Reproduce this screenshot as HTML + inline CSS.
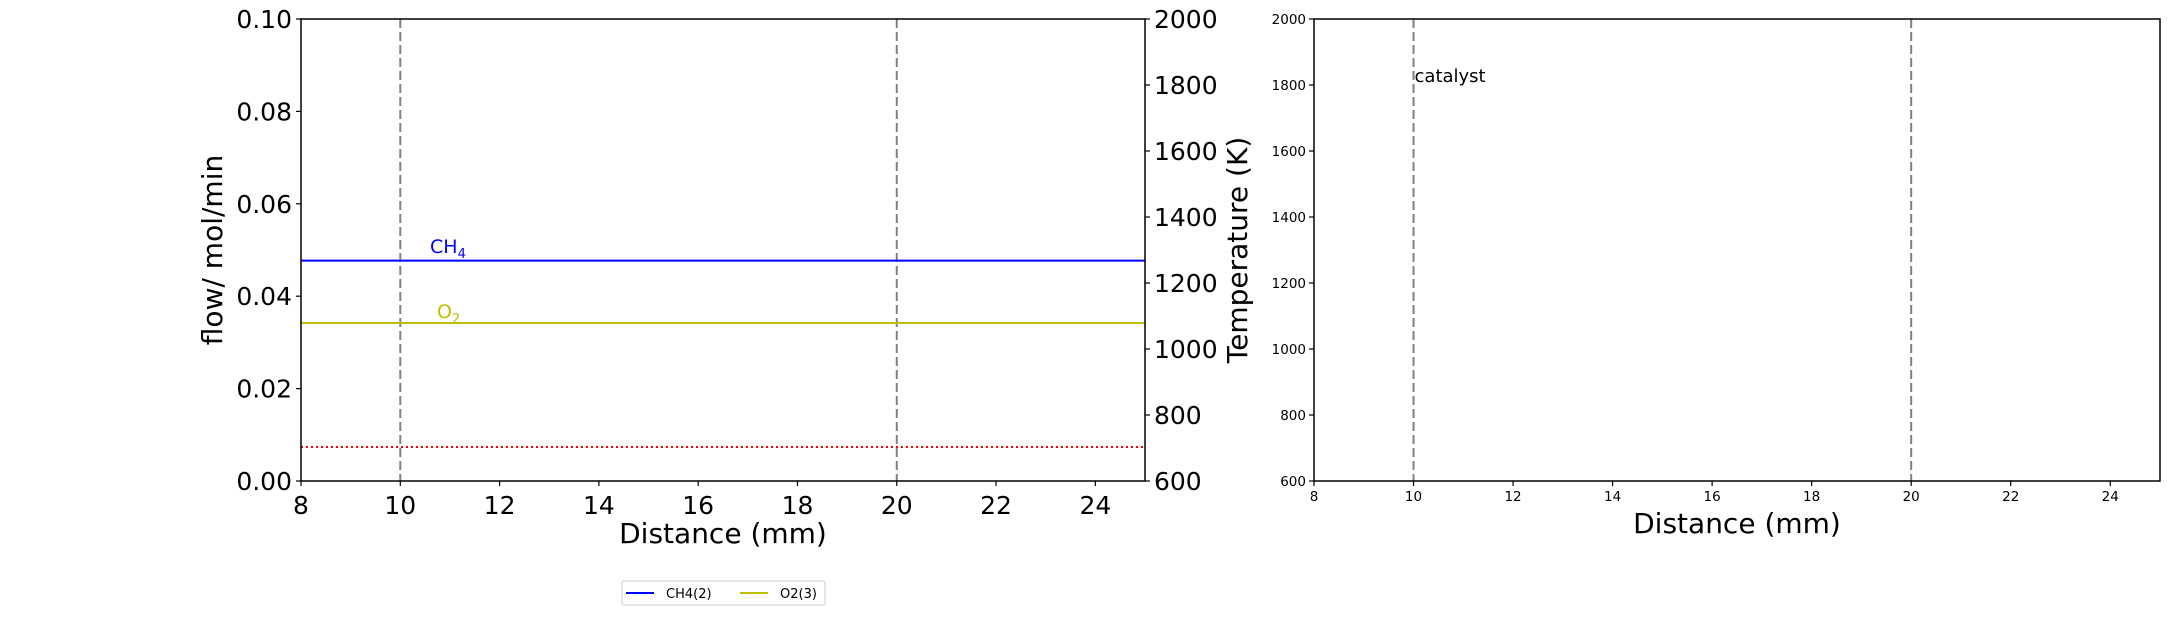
<!DOCTYPE html>
<html><head><meta charset="utf-8"><style>
html,body{margin:0;padding:0;background:#fff;}
svg text{font-family:"DejaVu Sans","Liberation Sans",sans-serif;}
</style></head><body>
<svg id="fig" width="2173" height="615" xmlns="http://www.w3.org/2000/svg">
<rect width="2173" height="615" fill="#fff"/>
<g id="left"></g>
<g id="right"></g>
</svg>
<script>
const xTicks=[8,10,12,14,16,18,20,22,24];
const flowTicks=["0.00","0.02","0.04","0.06","0.08","0.10"];
const tempTicks=[600,800,1000,1200,1400,1600,1800,2000];
const seriesNames=["CH4(2)","O2(3)"];
const seriesColors=["#0000ff","#bfbf00"];
const distance=[8,25];
const ch4Flow=[0.0477,0.0477];
const o2Flow=[0.0342,0.0342];
const tempProfile=[703,703];
const catalystBounds=[10,20];

const NS="http://www.w3.org/2000/svg";
function el(p,t,a,txt){const e=document.createElementNS(NS,t);for(const k in a)e.setAttribute(k,a[k]);if(txt!==undefined)e.textContent=txt;p.appendChild(e);return e;}
const L={x0:301,x1:1145,y0:481,y1:19};
const R={x0:1314,x1:2160,y0:481,y1:19};
const sx=(b,v)=>b.x0+(v-8)/(25-8)*(b.x1-b.x0);
const syF=v=>L.y0-(v/0.1)*(L.y0-L.y1);
const syT=(b,v)=>b.y0-(v-600)/1400*(b.y0-b.y1);

const lg=document.getElementById('left');
// catalyst lines
catalystBounds.forEach(c=>{
 const l=el(lg,'line',{x1:sx(L,c),x2:sx(L,c),y1:L.y1,y2:L.y0,stroke:'#808080','stroke-width':2,'stroke-dasharray':'9,4'});
 
 
});
const series=[ch4Flow,o2Flow];
series.forEach((s,i)=>{
 const pts=distance.map((d,j)=>sx(L,d)+','+syF(s[j])).join(' ');
 const p=el(lg,'polyline',{points:pts,fill:'none',stroke:seriesColors[i],'stroke-width':2});
 
 
});
{
 const pts=distance.map((d,j)=>sx(L,d)+','+syT(L,tempProfile[j])).join(' ');
 const p=el(lg,'polyline',{points:pts,fill:'none',stroke:'#ff0000','stroke-width':2,'stroke-dasharray':'2,3'});
 
 
}
const t1=el(lg,'text',{x:430,y:253,'font-size':19,fill:'#0000ff'});


t1.innerHTML='CH<tspan font-size="13" dy="5">4</tspan>';
const t2=el(lg,'text',{x:437,y:318,'font-size':19,fill:'#bfbf00'});


t2.innerHTML='O<tspan font-size="13" dy="5">2</tspan>';
const fr=el(lg,'rect',{x:L.x0,y:L.y1,width:L.x1-L.x0,height:L.y0-L.y1,fill:'none',stroke:'#000','stroke-width':1.5});


xTicks.forEach(v=>{
 const x=sx(L,v);
 el(lg,'line',{x1:x,x2:x,y1:L.y0,y2:L.y0+5,stroke:'#000','stroke-width':1.2});
 const t=el(lg,'text',{x:x,y:L.y0+33,'font-size':25,'text-anchor':'middle'},v);
 
 
});
flowTicks.forEach(v=>{
 const y=syF(+v);
 el(lg,'line',{x1:L.x0-5,x2:L.x0,y1:y,y2:y,stroke:'#000','stroke-width':1.2});
 const t=el(lg,'text',{x:L.x0-9,y:y+9,'font-size':25,'text-anchor':'end'},v);
 
 
});
tempTicks.forEach(v=>{
 const y=syT(L,v);
 el(lg,'line',{x1:L.x1,x2:L.x1+5,y1:y,y2:y,stroke:'#000','stroke-width':1.2});
 const t=el(lg,'text',{x:L.x1+9,y:y+9,'font-size':25,'text-anchor':'start'},v);
 
 
});
let a=el(lg,'text',{x:(L.x0+L.x1)/2,y:543,'font-size':28,'text-anchor':'middle'},'Distance (mm)');


a=el(lg,'text',{x:0,y:0,'font-size':28,'text-anchor':'middle',transform:'translate(222,250) rotate(-90)'},'flow/ mol/min');


a=el(lg,'text',{x:0,y:0,'font-size':28,'text-anchor':'middle',transform:'translate(1247,250) rotate(-90)'},'Temperature (K)');


// legend
const leg=el(lg,'g',{});


el(leg,'rect',{x:622,y:581,width:203,height:24,fill:'#fff',stroke:'#ccc','stroke-width':1,rx:2});
seriesNames.forEach((n,i)=>{
 const x0=626+i*114;
 el(leg,'line',{x1:x0,x2:x0+28,y1:593,y2:593,stroke:seriesColors[i],'stroke-width':2});
 const t=el(leg,'text',{x:x0+40,y:598,'font-size':13},n);
 
 
});

const rg=document.getElementById('right');
catalystBounds.forEach(c=>{
 const l=el(rg,'line',{x1:sx(R,c),x2:sx(R,c),y1:R.y1,y2:R.y0,stroke:'#808080','stroke-width':2,'stroke-dasharray':'9,4'});
 
 
});
a=el(rg,'text',{x:sx(R,10)+1,y:82,'font-size':18},'catalyst');


const fr2=el(rg,'rect',{x:R.x0,y:R.y1,width:R.x1-R.x0,height:R.y0-R.y1,fill:'none',stroke:'#000','stroke-width':1.5});


xTicks.forEach(v=>{
 const x=sx(R,v);
 el(rg,'line',{x1:x,x2:x,y1:R.y0,y2:R.y0+5,stroke:'#000','stroke-width':1.2});
 const t=el(rg,'text',{x:x,y:R.y0+20,'font-size':13.5,'text-anchor':'middle'},v);
 
 
});
tempTicks.forEach(v=>{
 const y=syT(R,v);
 el(rg,'line',{x1:R.x0-5,x2:R.x0,y1:y,y2:y,stroke:'#000','stroke-width':1.2});
 const t=el(rg,'text',{x:R.x0-8,y:y+5,'font-size':13.5,'text-anchor':'end'},v);
 
 
});
a=el(rg,'text',{x:(R.x0+R.x1)/2,y:533,'font-size':28,'text-anchor':'middle'},'Distance (mm)');


</script>
</body></html>
